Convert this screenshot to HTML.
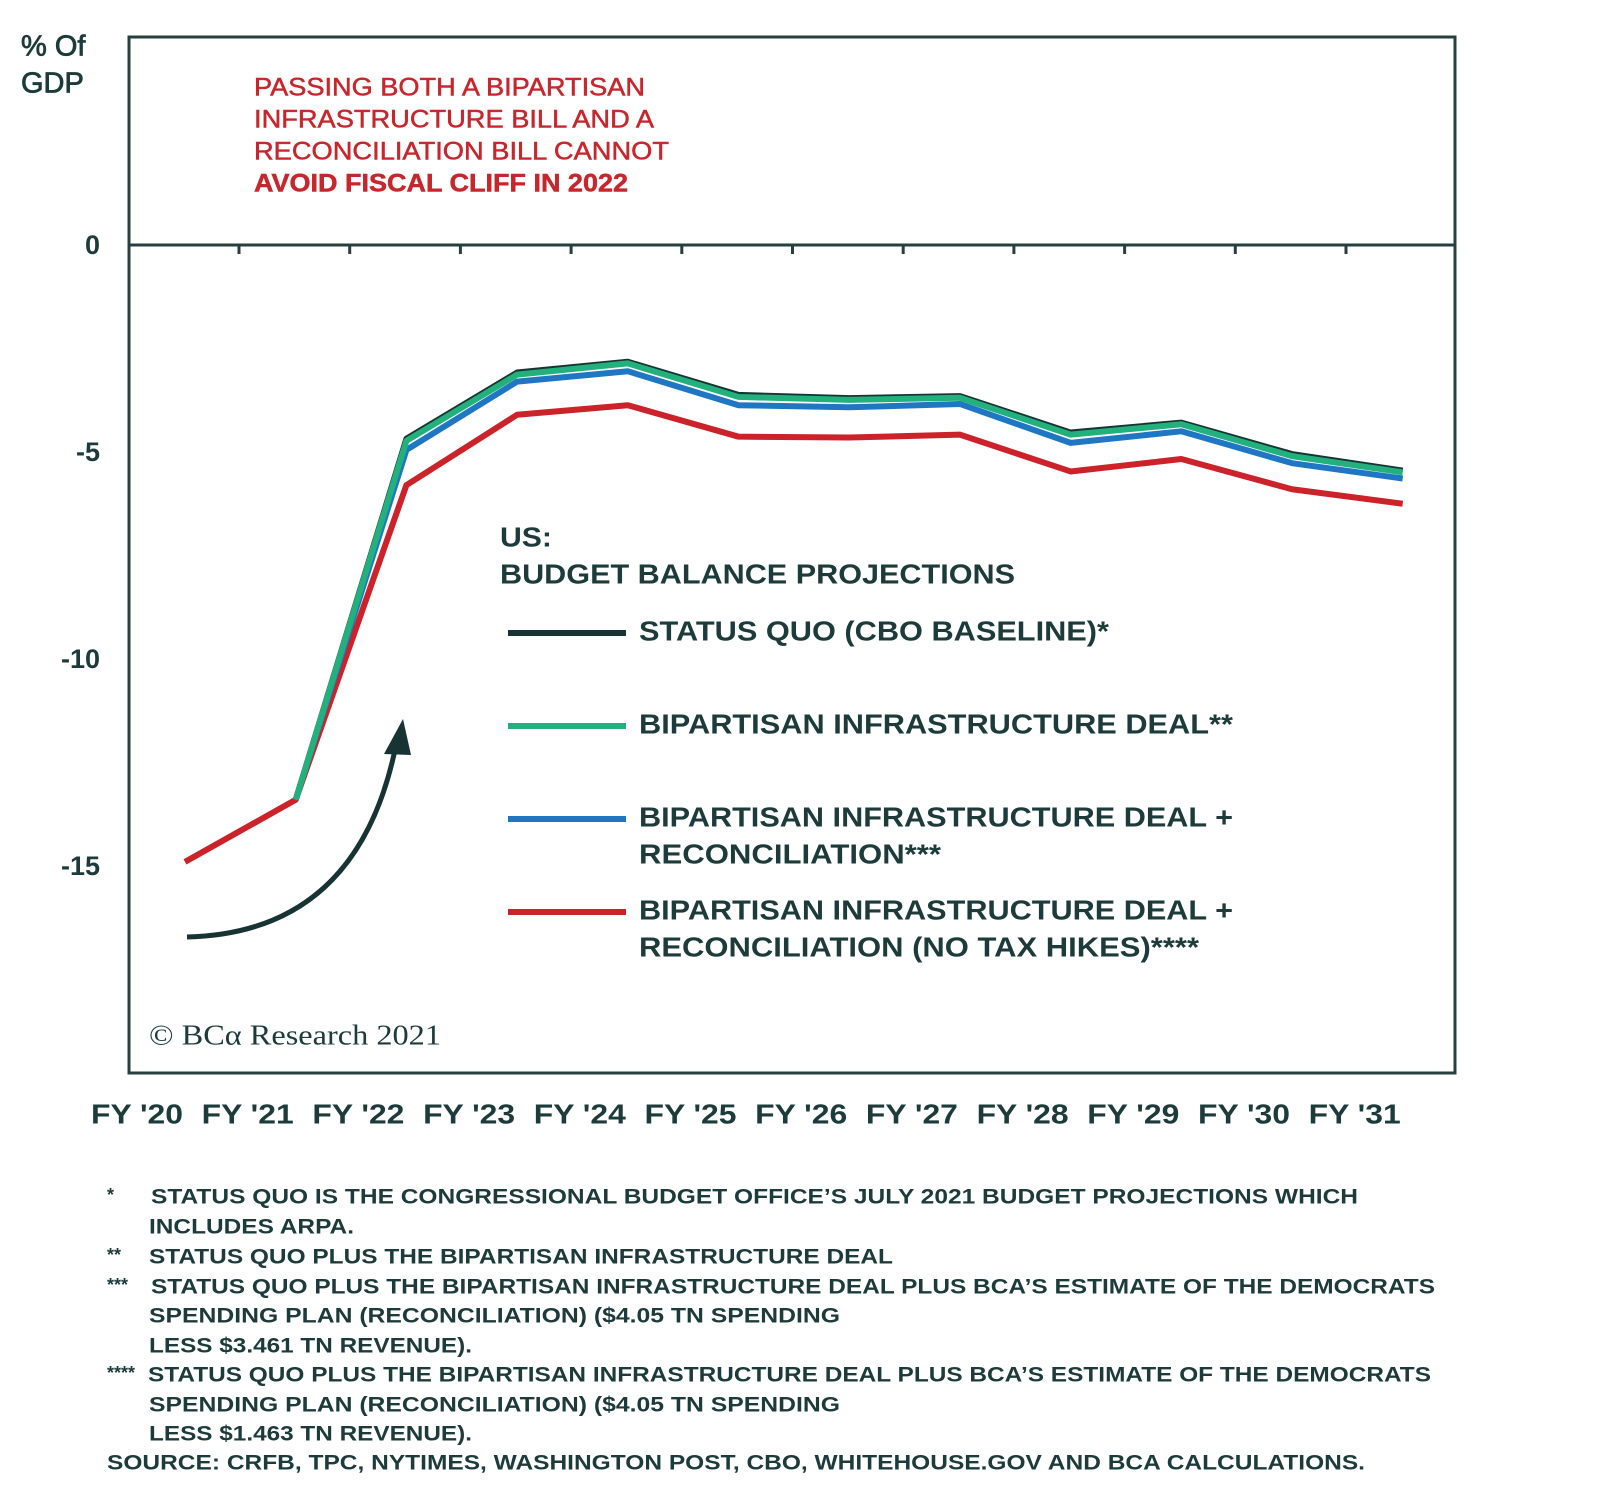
<!DOCTYPE html>
<html><head><meta charset="utf-8"><style>
html,body{margin:0;padding:0;background:#fff;}
svg{display:block;font-family:"Liberation Sans",sans-serif;}
</style></head><body>
<svg width="1600" height="1504" viewBox="0 0 1600 1504">
<g id="plot"></g>
</svg>
<script>
const categories=["FY '20","FY '21","FY '22","FY '23","FY '24","FY '25","FY '26","FY '27","FY '28","FY '29","FY '30","FY '31"];
const yTicks=[0,-5,-10,-15];
const statusQuo=[null,-13.4,-4.68,-3.08,-2.82,-3.62,-3.7,-3.65,-4.53,-4.29,-5.05,-5.45];
const bipartisan=[null,-13.4,-4.73,-3.13,-2.86,-3.67,-3.74,-3.69,-4.58,-4.33,-5.1,-5.49];
const bipartisanRecon=[null,-13.4,-4.95,-3.3,-3.05,-3.87,-3.92,-3.84,-4.78,-4.5,-5.27,-5.64];
const noTaxHikes=[-14.9,-13.4,-5.8,-4.1,-3.87,-4.63,-4.65,-4.58,-5.47,-5.17,-5.9,-6.25];

const NS="http://www.w3.org/2000/svg";
const g=document.getElementById('plot');
const X=i=>185+110.7*i;
const Y=v=>245-41.4*v;
const DARK="#1d3b3b";
function mk(tag,attrs,parent){const e=document.createElementNS(NS,tag);for(const k in attrs)e.setAttribute(k,attrs[k]);(parent||g).appendChild(e);return e;}
function txt(s,x,y,size,opts){opts=opts||{};const t=mk('text',Object.assign({x:x,y:y,'font-size':size,fill:opts.fill||DARK,'font-weight':opts.weight||'bold','dominant-baseline':'middle'},opts.anchor?{'text-anchor':opts.anchor}:{},opts.len?{textLength:opts.len,lengthAdjust:'spacingAndGlyphs'}:{} ,opts.family?{'font-family':opts.family}:{},opts.stroke?{stroke:opts.stroke,'stroke-width':opts.sw||0.5}:{}));t.textContent=s;return t;}

// frame
const frame=mk('rect',{x:129,y:37,width:1326,height:1036,fill:'none',stroke:'#27403f','stroke-width':3});


const zl=mk('line',{x1:129,x2:1455,y1:Y(0),y2:Y(0),stroke:'#27403f','stroke-width':3});


for(let i=0;i<categories.length-1;i++){
  const t=mk('line',{x1:X(i)+54,x2:X(i)+54,y1:Y(0),y2:Y(0)+9,stroke:'#27403f','stroke-width':3});
  
  
}
yTicks.forEach(v=>{
  const t=txt(String(v),100,Y(v)+2,27,{anchor:'end'});
  
  
});
categories.forEach((c,i)=>{
  const t=txt(c,X(i)-48,1116,28,{anchor:'middle',len:92});
  
  
});
let t=txt('% Of',21,48,29,{weight:'normal',stroke:DARK,sw:0.8});


t=txt('GDP',21,85,29,{weight:'normal',stroke:DARK,sw:0.8});



function line(arr,color,name,w){
  const pts=[];arr.forEach((v,i)=>{if(v!==null)pts.push(X(i)+','+Y(v));});
  const p=mk('polyline',{points:pts.join(' '),fill:'none',stroke:color,'stroke-width':w||6,'stroke-linejoin':'round'});
  
  
}
line(noTaxHikes,'#cc2229','line-no-tax-hikes');
line(statusQuo,'#173333','line-status-quo');
line(bipartisanRecon,'#1f77c4','line-bipartisan-reconciliation');
line(bipartisan,'#22b07d','line-bipartisan-deal');

const ar=mk('path',{d:'M187,937 Q358,933 396,745',fill:'none',stroke:'#173333','stroke-width':5});


const ah=mk('polygon',{points:'403,719 384,754 411,755',fill:'#173333'});



const RED="#c8262c";
[['PASSING BOTH A BIPARTISAN',89,391],['INFRASTRUCTURE BILL AND A',121,400],['RECONCILIATION BILL CANNOT',153,415],['AVOID FISCAL CLIFF IN 2022',185,374]].forEach((l,i)=>{
  const e=txt(l[0],254,l[1],25,{fill:RED,weight:i==3?'bold':'normal',stroke:RED,sw:0.5,len:l[2]});
  
  
});

t=txt('US:',500,539,28,{len:52});


t=txt('BUDGET BALANCE PROJECTIONS',500,576,28,{len:515});


const leg=[['#173333',633,[['STATUS QUO (CBO BASELINE)*',470]]],
['#22b07d',726,[['BIPARTISAN INFRASTRUCTURE DEAL**',594]]],
['#1f77c4',819,[['BIPARTISAN INFRASTRUCTURE DEAL +',594],['RECONCILIATION***',302]]],
['#cc2229',912,[['BIPARTISAN INFRASTRUCTURE DEAL +',594],['RECONCILIATION (NO TAX HIKES)****',560]]]];
leg.forEach(l=>{
  const s=mk('line',{x1:508,x2:626,y1:l[1],y2:l[1],stroke:l[0],'stroke-width':6});
  
  
  l[2].forEach((tx,j)=>{
    const e=txt(tx[0],639,l[1]+j*37,28,{len:tx[1]});
    
    
  });
});

t=txt('© BCα Research 2021',149,1038,28,{weight:'normal',family:'"Liberation Serif",serif',len:292});



const notes=[['*',107,1196,null,18],
['STATUS QUO IS THE CONGRESSIONAL BUDGET OFFICE\u2019S JULY 2021 BUDGET PROJECTIONS WHICH',151,1198,1207],
['INCLUDES ARPA.',149,1228,205],
['**',107,1256,null,18],
['STATUS QUO PLUS THE BIPARTISAN INFRASTRUCTURE DEAL',149,1258,744],
['***',107,1286,null,18],
['STATUS QUO PLUS THE BIPARTISAN INFRASTRUCTURE DEAL PLUS BCA\u2019S ESTIMATE OF THE DEMOCRATS',151,1288,1284],
['SPENDING PLAN (RECONCILIATION) ($4.05 TN SPENDING',149,1317,691],
['LESS $3.461 TN REVENUE).',149,1347,323],
['****',107,1374,null,18],
['STATUS QUO PLUS THE BIPARTISAN INFRASTRUCTURE DEAL PLUS BCA\u2019S ESTIMATE OF THE DEMOCRATS',148,1376,1283],
['SPENDING PLAN (RECONCILIATION) ($4.05 TN SPENDING',149,1406,691],
['LESS $1.463 TN REVENUE).',149,1435,323],
['SOURCE: CRFB, TPC, NYTIMES, WASHINGTON POST, CBO, WHITEHOUSE.GOV AND BCA CALCULATIONS.',107,1464,1258]];
notes.forEach(n=>{
  const o={};if(n[3])o.len=n[3];
  const e=txt(n[0],n[1],n[2],n[4]||21,o);
  
  
});
</script>
</body></html>
